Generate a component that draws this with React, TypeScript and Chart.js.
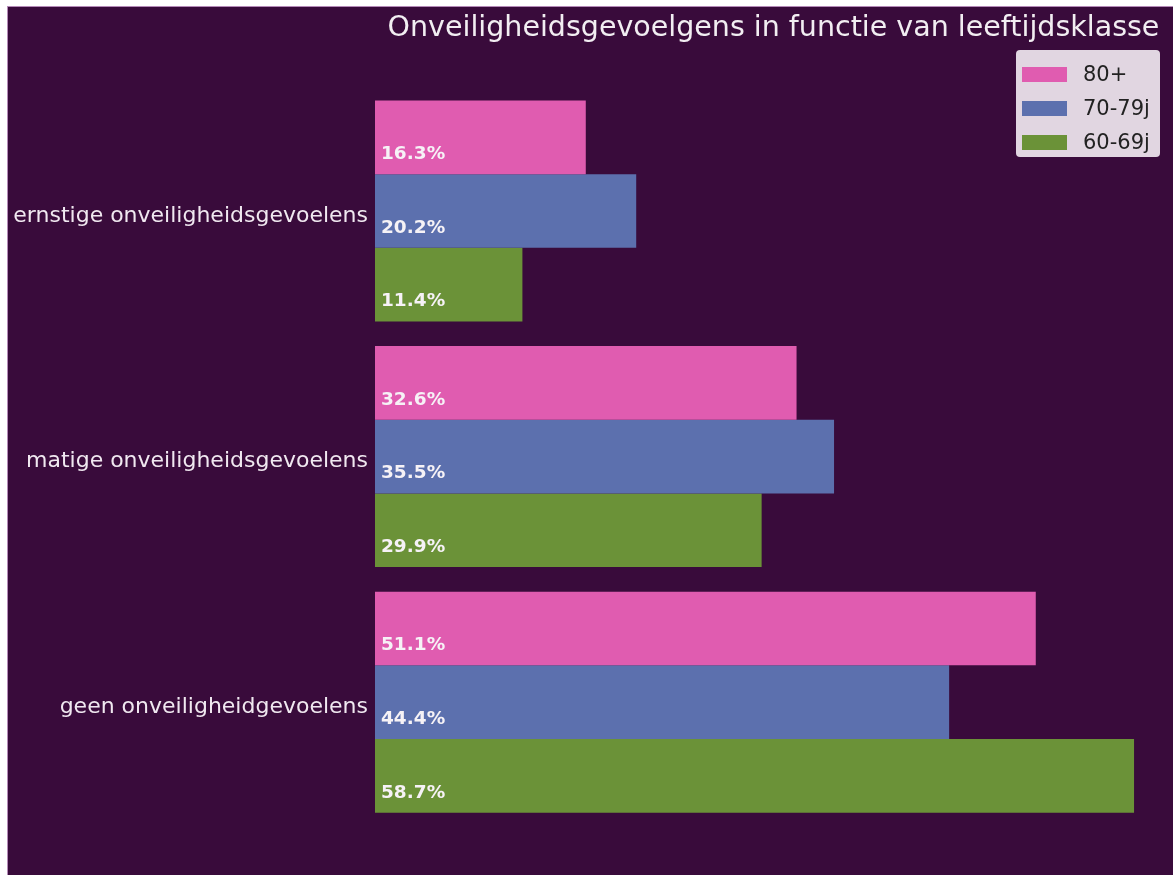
import React, { useEffect, useRef } from "react";
import { Chart, registerables } from "chart.js";

Chart.register(...registerables);

const categories = [
  "ernstige onveiligheidsgevoelens",
  "matige onveiligheidsgevoelens",
  "geen onveiligheidgevoelens",
];
const seriesNames = ["80+", "70-79j", "60-69j"];
const values80plus = [16.3, 32.6, 51.1];
const values70to79 = [20.2, 35.5, 44.4];
const values60to69 = [11.4, 29.9, 58.7];
const seriesColors = ["#e05cb0", "#5c70ae", "#6b9238"];
const chartTitle = "Onveiligheidsgevoelgens in functie van leeftijdsklasse";

const FONT = "'DejaVu Sans', sans-serif";

const valueLabels = {
  id: "valueLabels",
  afterDatasetsDraw(chart: any) {
    const ctx = chart.ctx;
    ctx.save();
    ctx.font = `bold 18.5px ${FONT}`;
    ctx.fillStyle = "#f6f2f6";
    ctx.textAlign = "left";
    ctx.textBaseline = "middle";
    chart.data.datasets.forEach((ds: any, di: number) => {
      const meta = chart.getDatasetMeta(di);
      meta.data.forEach((bar: any, i: number) => {
        const v = ds.data[i];
        ctx.fillText(v.toFixed(1) + "%", bar.base + 6, bar.y + 17);
      });
    });
    ctx.restore();
  },
};

export default function App() {
  const canvasRef = useRef<HTMLCanvasElement | null>(null);

  useEffect(() => {
    const all = [...values80plus, ...values70to79, ...values60to69];
    const chart = new Chart(canvasRef.current as HTMLCanvasElement, {
      type: "bar",
      data: {
        labels: categories,
        datasets: [values80plus, values70to79, values60to69].map((d, i) => ({
          label: seriesNames[i],
          data: d,
          backgroundColor: seriesColors[i],
          borderWidth: 0,
          categoryPercentage: 0.9,
          barPercentage: 1.0,
        })),
      },
      options: {
        indexAxis: "y",
        responsive: false,
        animation: false,
        maintainAspectRatio: false,
        layout: { padding: { top: 0, right: 2, bottom: 50, left: 0 } },
        plugins: {
          legend: { display: false },
          tooltip: { enabled: false },
          title: {
            display: true,
            text: chartTitle,
            fullSize: false,
            color: "#f2eef2",
            font: { family: FONT, size: 28.5, weight: "normal" },
            padding: { top: 4, bottom: 43 },
          },
        },
        scales: {
          x: {
            display: false,
            min: 0,
            max: Math.max(...all) * 1.05,
          },
          y: {
            grid: { display: false, drawTicks: false },
            border: { display: false },
            ticks: {
              color: "#f0e8f0",
              font: { family: FONT, size: 22 },
              padding: 7,
              labelOffset: 5,
            },
            afterFit(scale: any) {
              scale.width = 367;
            },
          },
        },
      },
      plugins: [valueLabels],
    } as any);
    return () => chart.destroy();
  }, []);

  return (
    <div
      style={{
        position: "fixed",
        left: 0,
        top: 0,
        width: 1173,
        height: 875,
        background: "#ffffff",
        overflow: "hidden",
      }}
    >
      <div
        style={{
          position: "absolute",
          left: 7,
          top: 6,
          width: 1166,
          height: 869,
          background: "#390b3b",
          borderLeft: "1px solid #b58ab8",
          borderTop: "1px solid #b58ab8",
        }}
      >
        <canvas ref={canvasRef} width={1166} height={868} style={{ display: "block" }} />
        <div
          style={{
            position: "absolute",
            left: 1008,
            top: 43,
            width: 144,
            height: 107,
            background: "rgba(238,230,238,0.93)",
            borderRadius: 4,
            fontFamily: FONT,
          }}
        >
          {seriesNames.map((n, i) => (
            <div
              key={n}
              style={{
                position: "absolute",
                left: 6,
                top: 13 + i * 34,
                height: 22,
                display: "flex",
                alignItems: "center",
              }}
            >
              <div style={{ width: 45, height: 15, background: seriesColors[i] }} />
              <span style={{ marginLeft: 16, fontSize: 21, color: "#222" }}>{n}</span>
            </div>
          ))}
        </div>
      </div>
    </div>
  );
}
